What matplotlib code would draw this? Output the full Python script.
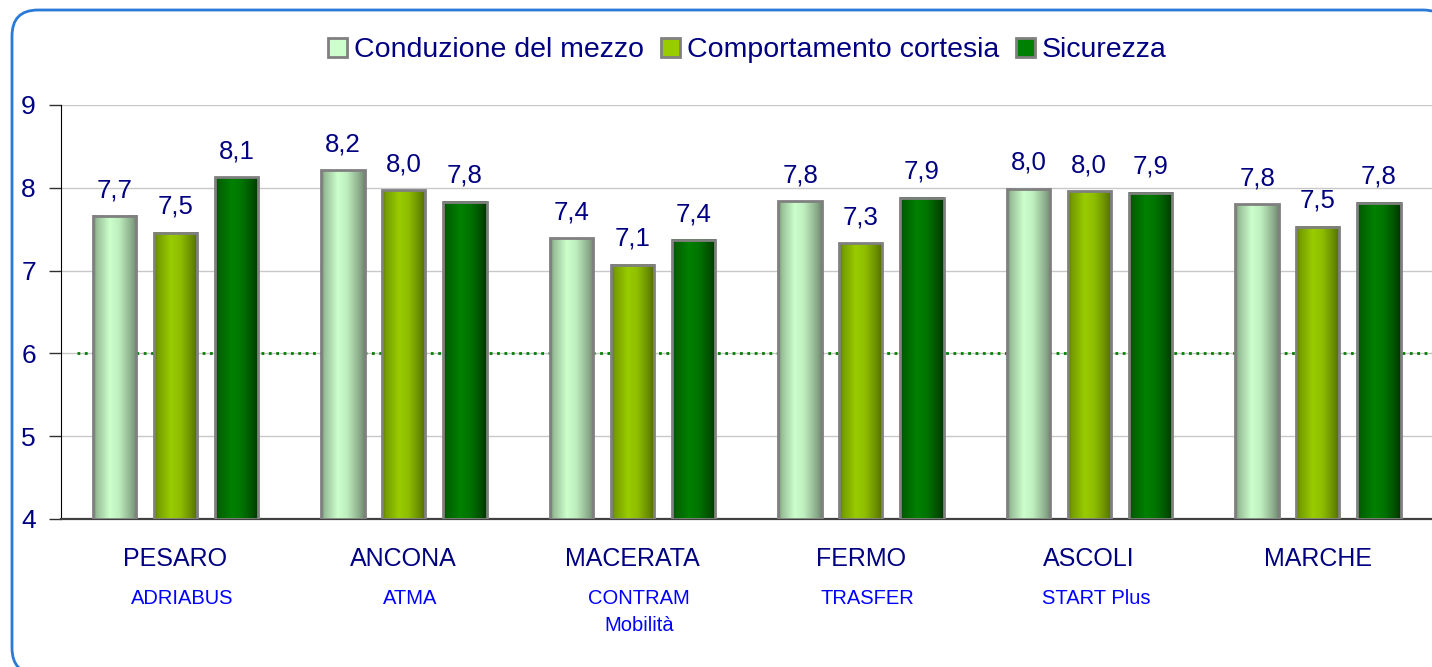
import numpy as np
import matplotlib
matplotlib.use("Agg")
import matplotlib.pyplot as plt
from matplotlib.patches import Patch, FancyBboxPatch
from matplotlib.colors import to_rgb

plt.rcParams['font.family'] = ['Liberation Sans', 'DejaVu Sans']

# Punteggi medi per provincia / azienda
province = ['PESARO', 'ANCONA', 'MACERATA', 'FERMO', 'ASCOLI', 'MARCHE']
aziende = ['ADRIABUS', 'ATMA', 'CONTRAM\nMobilità', 'TRASFER', 'START Plus', '']
serie = ['Conduzione del mezzo', 'Comportamento cortesia', 'Sicurezza']
conduzione = [7.66, 8.21, 7.39, 7.84, 7.99, 7.80]
cortesia = [7.46, 7.97, 7.07, 7.33, 7.96, 7.53]
sicurezza = [8.13, 7.83, 7.37, 7.88, 7.94, 7.82]
valori = [conduzione, cortesia, sicurezza]
soglia = 6

# colori: bordo scuro, centro chiaro (effetto cilindro)
col_centro = ['#ccffcc', '#99cc00', '#008000']
col_bordo_sx = ['#6f8c6f', '#5a7800', '#004a00']
col_bordo_dx = ['#6a806a', '#4a6300', '#003000']
navy = '#000080'

fig = plt.figure(figsize=(14.32, 6.67), dpi=100)

# cornice arrotondata
bg = fig.add_axes([0, 0, 1, 1], zorder=-5)
bg.set_xlim(0, 1432)
bg.set_ylim(667, 0)
bg.axis('off')
bg.add_patch(FancyBboxPatch((12, 10), 1437, 664,
                            boxstyle='round,pad=0,rounding_size=26',
                            facecolor='white', edgecolor='#2a7ad8', linewidth=2))

ax = fig.add_axes([61 / 1432, 148 / 667, 1 - 61 / 1432, 414 / 667])
ax.patch.set_alpha(0)

x = np.arange(len(province)) + 0.5
offsets = [-0.265, 0.0, 0.268]
width = 0.19

t = np.linspace(0, 1, 64)
prof = np.interp(t, [0, 0.08, 0.38, 0.6, 0.9, 1], [0, 0.45, 1, 0.85, 0.3, 0.05])

for i, vals in enumerate(valori):
    c0 = np.array(to_rgb(col_centro[i]))
    cl = np.array(to_rgb(col_bordo_sx[i]))
    cr = np.array(to_rgb(col_bordo_dx[i]))
    edge = cl[None, :] * (1 - t[:, None]) + cr[None, :] * t[:, None]
    grad = edge * (1 - prof[:, None]) + c0[None, :] * prof[:, None]
    bars = ax.bar(x + offsets[i], np.array(vals) - 4, width, bottom=4,
                  facecolor='none', edgecolor='#808080', linewidth=2, zorder=4)
    for b, v in zip(bars, vals):
        x0 = b.get_x()
        ax.imshow(grad[None, :, :], extent=[x0, x0 + width, 4, v],
                  aspect='auto', zorder=3, interpolation='bilinear')
        ax.annotate(f'{v:.1f}'.replace('.', ','), (x0 + width / 2, v),
                    xytext=(0, 10), textcoords='offset points',
                    ha='center', va='bottom', fontsize=18.5, color=navy)

ax.set_xlim(0, len(province))
ax.set_ylim(4, 9)
ax.set_yticks([4, 5, 6, 7, 8, 9])
ax.yaxis.grid(True, color='#c8c8c8', linewidth=1, zorder=0)
ax.set_axisbelow(True)
ax.axhline(soglia, xmin=16 / 1371, xmax=1, color='#008000', linestyle=':',
           linewidth=2, zorder=2)

ax.set_xticks([])
ax.tick_params(axis='y', direction='out', length=9, width=1, color='#303030',
               labelsize=19, labelcolor=navy, pad=9)
for s in ['top', 'right']:
    ax.spines[s].set_visible(False)
ax.spines['left'].set_color('black')
ax.spines['bottom'].set_color('#404040')
ax.spines['bottom'].set_linewidth(1.6)

tr = ax.get_xaxis_transform()
for xi, p, a in zip(x, province, aziende):
    ax.text(xi, -0.097, p, transform=tr, ha='center', va='center',
            fontsize=18, color=navy)
    if a:
        ax.text(xi + 0.03, -0.17, a, transform=tr, ha='center', va='top',
                fontsize=14.5, color='#0000ff', linespacing=1.5)

handles = [Patch(facecolor=c, edgecolor='#808080', linewidth=2) for c in col_centro]
fig.legend(handles, serie, loc='center', bbox_to_anchor=(0.522, 0.925), ncol=3,
           frameon=False, fontsize=20.5, handlelength=0.65, handleheight=0.65,
           handletextpad=0.25, columnspacing=0.6, labelcolor=navy)

fig.savefig('out.png', dpi=100)
